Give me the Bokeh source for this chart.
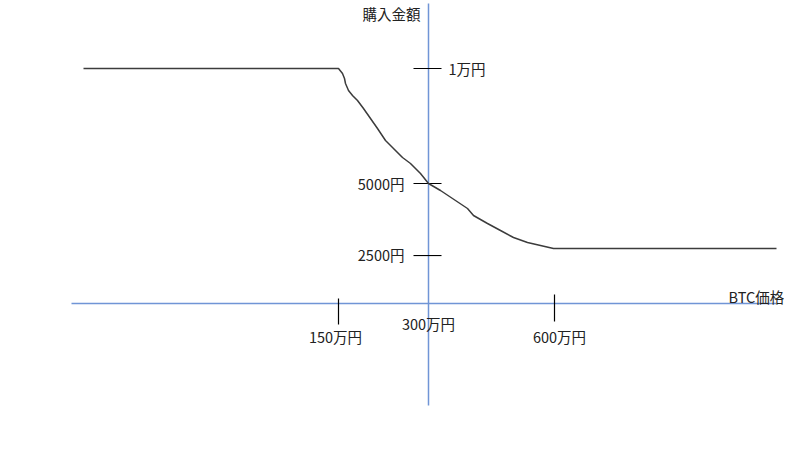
from bokeh.plotting import figure
from bokeh.models import Range1d
from bokeh.core.properties import value
from bokeh.embed import file_html
from bokeh.resources import INLINE

# Schematic chart units: origin at the axes crossing (price 300万円), y up.
# Purchase amount curve (schematic)
curve_x = [-345, -90, -86, -84, -83, -80, -76, -71, -65, -58, -51, -43, -35, -26,
           -18, -8, 0, 12, 27, 39, 45, 59, 72, 85, 99, 112, 125, 348]
curve_y = [235, 235, 230, 225, 220, 213, 208, 203, 195, 185, 175, 163, 155, 146,
           140, 130, 120, 113, 103, 95, 88, 80, 73, 66, 61, 58, 55, 55]

# y-axis ticks (amount)
y_tick_pos = [235, 120, 48]
y_tick_labels = ["1万円", "5000円", "2500円"]

# x-axis ticks (BTC price)
x_tick_pos = [-90, 0, 126]
x_tick_labels = ["150万円", "300万円", "600万円"]

x_title = "BTC価格"
y_title = "購入金額"

FONT = value("Noto Sans CJK JP")
FS = "14.5px"
AXIS_COLOR = "#7095d6"
INK = "#000000"
TXT = "#222222"

p = figure(width=784, height=434, output_backend="svg", toolbar_location=None,
           x_range=Range1d(-428, 356), y_range=Range1d(-131, 303),
           min_border=0, background_fill_color="white")
p.axis.visible = False
p.xgrid.visible = False
p.ygrid.visible = False
p.outline_line_color = None

# axes lines
p.segment(x0=[-357], y0=[0], x1=[348], y1=[0], line_color=AXIS_COLOR, line_width=1.5)
p.segment(x0=[0], y0=[-102], x1=[0], y1=[300], line_color=AXIS_COLOR, line_width=1.5)

# y ticks
p.segment(x0=[-15] * 3, y0=y_tick_pos, x1=[13] * 3, y1=y_tick_pos,
          line_color=INK, line_width=1.2)
# x ticks (skip the one at the axis itself)
xt = [x for x in x_tick_pos if x != 0]
p.segment(x0=xt, y0=[5, 9], x1=xt, y1=[-21, -18], line_color=INK, line_width=1.2)

# curve
p.line(curve_x, curve_y, line_color="#3c3c3c", line_width=1.5)

# y tick labels
p.text(x=[20], y=[y_tick_pos[0]], text=[y_tick_labels[0]], text_font=FONT,
       text_font_size=FS, text_align="left", text_baseline="middle", text_color=TXT)
p.text(x=[-24, -24], y=[y_tick_pos[1], y_tick_pos[2] + 1], text=y_tick_labels[1:],
       text_font=FONT, text_font_size=FS, text_align="right",
       text_baseline="middle", text_color=TXT)

# x tick labels
p.text(x=[x_tick_pos[0] - 3, x_tick_pos[1], x_tick_pos[2] + 5], y=[-33, -20, -33],
       text=x_tick_labels, text_font=FONT, text_font_size=FS,
       text_align="center", text_baseline="middle", text_color=TXT)

# axis titles
p.text(x=[300], y=[7], text=[x_title], text_font=FONT, text_font_size=FS,
       text_align="left", text_baseline="middle", text_color=TXT)
p.text(x=[-8], y=[290], text=[y_title], text_font=FONT, text_font_size=FS,
       text_align="right", text_baseline="middle", text_color=TXT)

open("out.html", "w").write(file_html(p, INLINE))
